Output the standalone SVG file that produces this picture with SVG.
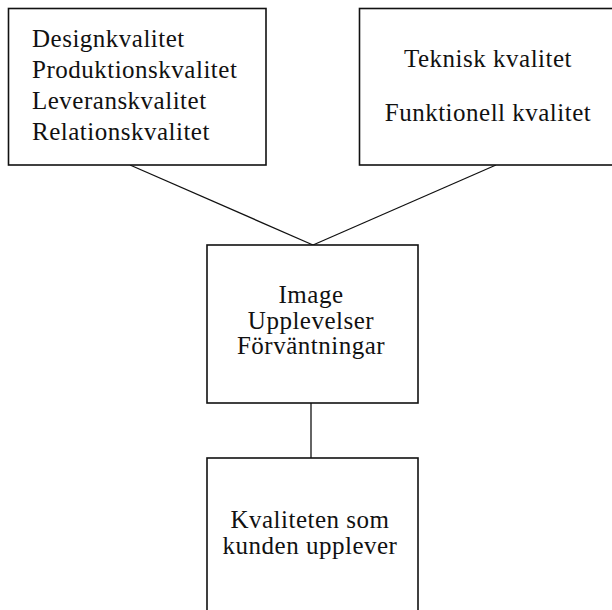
<svg xmlns="http://www.w3.org/2000/svg" width="612" height="610" viewBox="0 0 612 610">
<style>
.box{fill:#fff;stroke:#111;stroke-width:1.6}
.t{font-family:'Liberation Serif','Times New Roman',Times,Tinos,'Noto Serif','DejaVu Serif',FreeSerif,Georgia,serif;font-size:25px;letter-spacing:0.5px;fill:#111}
.c{text-anchor:middle}
.ln{stroke:#111;stroke-width:1.3;fill:none}
</style>
<rect width="612" height="610" fill="#fff"/>
<g id="connectors">
<line class="ln" x1="130" y1="165" x2="313" y2="245"/>
<line class="ln" x1="496" y1="165" x2="313" y2="245"/>
<line class="ln" x1="311" y1="403" x2="311" y2="458"/>
</g>
<g id="node-dimensions">
<rect class="box" x="8.5" y="8.5" width="257.5" height="156.5"/>
<text class="t" x="32" y="47">Designkvalitet</text>
<text class="t" x="32" y="78">Produktionskvalitet</text>
<text class="t" x="32" y="109">Leveranskvalitet</text>
<text class="t" x="32" y="140">Relationskvalitet</text>
</g>
<g id="node-technical">
<rect class="box" x="359.5" y="8.5" width="260" height="156.5"/>
<text class="t c" x="488" y="67">Teknisk kvalitet</text>
<text class="t c" x="488" y="121">Funktionell kvalitet</text>
</g>
<g id="node-image">
<rect class="box" x="207" y="245" width="211" height="158"/>
<text class="t c" x="311" y="303">Image</text>
<text class="t c" x="311" y="329">Upplevelser</text>
<text class="t c" x="311" y="354">Förväntningar</text>
</g>
<g id="node-perceived">
<rect class="box" x="207" y="458" width="211" height="170"/>
<text class="t c" x="310" y="528">Kvaliteten som</text>
<text class="t c" x="310" y="554">kunden upplever</text>
</g>
</svg>
